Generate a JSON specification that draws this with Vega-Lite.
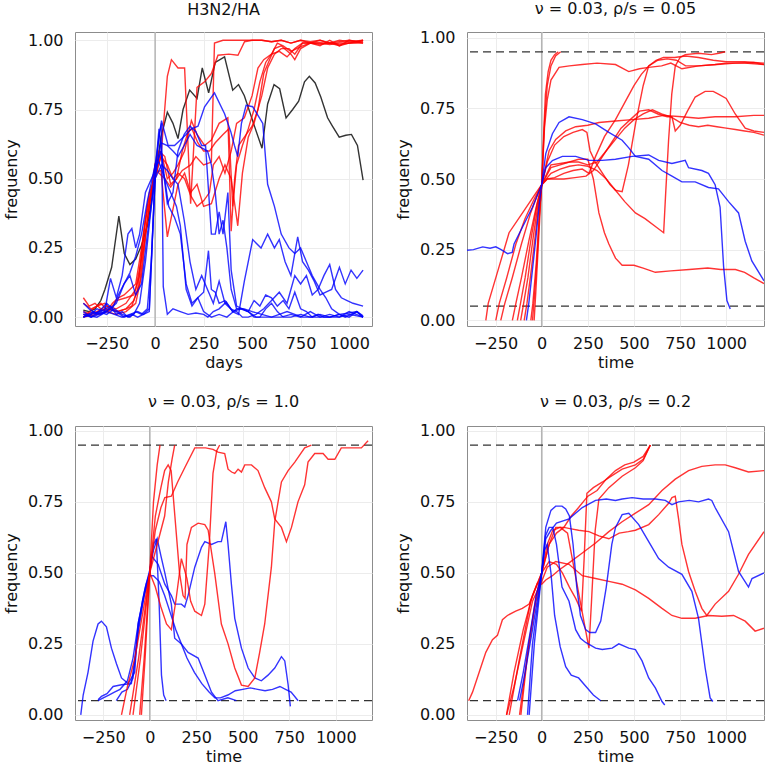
{
"$schema": "https://vega.github.io/schema/vega-lite/v6.json",
"padding": {"left": 2, "top": 0, "right": 0, "bottom": 0},
"columns": 2,
"spacing": {"column": 20, "row": 22},
"datasets": {
"p1": [
{"s":"K1","c":"k","x":-370,"y":0.025},{"s":"K1","c":"k","x":-340,"y":0.02},{"s":"K1","c":"k","x":-310,"y":0.03},{"s":"K1","c":"k","x":-280,"y":0.06},{"s":"K1","c":"k","x":-259,"y":0.10},{"s":"K1","c":"k","x":-224,"y":0.18},{"s":"K1","c":"k","x":-187,"y":0.365},{"s":"K1","c":"k","x":-159,"y":0.23},{"s":"K1","c":"k","x":-130,"y":0.19},{"s":"K1","c":"k","x":-100,"y":0.21},{"s":"K1","c":"k","x":-70,"y":0.26},{"s":"K1","c":"k","x":-40,"y":0.33},{"s":"K1","c":"k","x":0,"y":0.50},{"s":"K1","c":"k","x":30,"y":0.65},{"s":"K1","c":"k","x":63,"y":0.74},{"s":"K1","c":"k","x":92,"y":0.70},{"s":"K1","c":"k","x":118,"y":0.645},{"s":"K1","c":"k","x":144,"y":0.75},{"s":"K1","c":"k","x":178,"y":0.82},{"s":"K1","c":"k","x":216,"y":0.79},{"s":"K1","c":"k","x":243,"y":0.90},{"s":"K1","c":"k","x":276,"y":0.81},{"s":"K1","c":"k","x":310,"y":0.92},{"s":"K1","c":"k","x":358,"y":0.94},{"s":"K1","c":"k","x":400,"y":0.82},{"s":"K1","c":"k","x":430,"y":0.84},{"s":"K1","c":"k","x":460,"y":0.80},{"s":"K1","c":"k","x":512,"y":0.69},{"s":"K1","c":"k","x":551,"y":0.61},{"s":"K1","c":"k","x":580,"y":0.77},{"s":"K1","c":"k","x":613,"y":0.84},{"s":"K1","c":"k","x":642,"y":0.825},{"s":"K1","c":"k","x":675,"y":0.72},{"s":"K1","c":"k","x":709,"y":0.75},{"s":"K1","c":"k","x":740,"y":0.78},{"s":"K1","c":"k","x":770,"y":0.85},{"s":"K1","c":"k","x":795,"y":0.87},{"s":"K1","c":"k","x":825,"y":0.846},{"s":"K1","c":"k","x":854,"y":0.795},{"s":"K1","c":"k","x":889,"y":0.72},{"s":"K1","c":"k","x":914,"y":0.69},{"s":"K1","c":"k","x":949,"y":0.65},{"s":"K1","c":"k","x":983,"y":0.657},{"s":"K1","c":"k","x":1012,"y":0.66},{"s":"K1","c":"k","x":1043,"y":0.62},{"s":"K1","c":"k","x":1072,"y":0.495},
{"s":"R1","c":"r","x":-370,"y":0.07},{"s":"R1","c":"r","x":-340,"y":0.04},{"s":"R1","c":"r","x":-310,"y":0.05},{"s":"R1","c":"r","x":-280,"y":0.03},{"s":"R1","c":"r","x":-250,"y":0.02},{"s":"R1","c":"r","x":-220,"y":0.05},{"s":"R1","c":"r","x":-190,"y":0.07},{"s":"R1","c":"r","x":-160,"y":0.08},{"s":"R1","c":"r","x":-130,"y":0.1},{"s":"R1","c":"r","x":-100,"y":0.12},{"s":"R1","c":"r","x":-70,"y":0.25},{"s":"R1","c":"r","x":-40,"y":0.4},{"s":"R1","c":"r","x":0,"y":0.52},{"s":"R1","c":"r","x":30,"y":0.58},{"s":"R1","c":"r","x":63,"y":0.87},{"s":"R1","c":"r","x":84,"y":0.93},{"s":"R1","c":"r","x":118,"y":0.9},{"s":"R1","c":"r","x":152,"y":0.9},{"s":"R1","c":"r","x":183,"y":0.41},{"s":"R1","c":"r","x":216,"y":0.83},{"s":"R1","c":"r","x":255,"y":0.85},{"s":"R1","c":"r","x":290,"y":0.88},{"s":"R1","c":"r","x":324,"y":0.946},{"s":"R1","c":"r","x":380,"y":0.95},{"s":"R1","c":"r","x":427,"y":0.946},{"s":"R1","c":"r","x":461,"y":0.995},{"s":"R1","c":"r","x":500,"y":1},{"s":"R1","c":"r","x":550,"y":1},{"s":"R1","c":"r","x":600,"y":0.995},{"s":"R1","c":"r","x":650,"y":1},{"s":"R1","c":"r","x":700,"y":0.99},{"s":"R1","c":"r","x":750,"y":1},{"s":"R1","c":"r","x":800,"y":0.995},{"s":"R1","c":"r","x":850,"y":1},{"s":"R1","c":"r","x":900,"y":0.99},{"s":"R1","c":"r","x":950,"y":0.995},{"s":"R1","c":"r","x":1000,"y":1},{"s":"R1","c":"r","x":1050,"y":0.995},{"s":"R1","c":"r","x":1072,"y":1},
{"s":"R3","c":"r","x":-370,"y":0.01},{"s":"R3","c":"r","x":-300,"y":0.02},{"s":"R3","c":"r","x":-250,"y":0.04},{"s":"R3","c":"r","x":-200,"y":0.03},{"s":"R3","c":"r","x":-150,"y":0.05},{"s":"R3","c":"r","x":-100,"y":0.1},{"s":"R3","c":"r","x":-60,"y":0.25},{"s":"R3","c":"r","x":-30,"y":0.4},{"s":"R3","c":"r","x":0,"y":0.52},{"s":"R3","c":"r","x":30,"y":0.6},{"s":"R3","c":"r","x":63,"y":0.5},{"s":"R3","c":"r","x":92,"y":0.52},{"s":"R3","c":"r","x":118,"y":0.55},{"s":"R3","c":"r","x":152,"y":0.6},{"s":"R3","c":"r","x":187,"y":0.71},{"s":"R3","c":"r","x":216,"y":0.66},{"s":"R3","c":"r","x":255,"y":0.62},{"s":"R3","c":"r","x":290,"y":0.64},{"s":"R3","c":"r","x":330,"y":0.7},{"s":"R3","c":"r","x":375,"y":0.72},{"s":"R3","c":"r","x":392,"y":0.31},{"s":"R3","c":"r","x":410,"y":0.5},{"s":"R3","c":"r","x":430,"y":0.62},{"s":"R3","c":"r","x":460,"y":0.65},{"s":"R3","c":"r","x":500,"y":0.69},{"s":"R3","c":"r","x":530,"y":0.75},{"s":"R3","c":"r","x":560,"y":0.88},{"s":"R3","c":"r","x":590,"y":0.93},{"s":"R3","c":"r","x":615,"y":0.97},{"s":"R3","c":"r","x":650,"y":0.98},{"s":"R3","c":"r","x":700,"y":0.95},{"s":"R3","c":"r","x":720,"y":0.93},{"s":"R3","c":"r","x":750,"y":0.97},{"s":"R3","c":"r","x":800,"y":0.99},{"s":"R3","c":"r","x":850,"y":0.99},{"s":"R3","c":"r","x":900,"y":0.99},{"s":"R3","c":"r","x":950,"y":0.985},{"s":"R3","c":"r","x":1000,"y":0.99},{"s":"R3","c":"r","x":1072,"y":0.99},
{"s":"R4","c":"r","x":-370,"y":0},{"s":"R4","c":"r","x":-320,"y":0.03},{"s":"R4","c":"r","x":-280,"y":0.05},{"s":"R4","c":"r","x":-240,"y":0.02},{"s":"R4","c":"r","x":-200,"y":0.06},{"s":"R4","c":"r","x":-150,"y":0.07},{"s":"R4","c":"r","x":-110,"y":0.08},{"s":"R4","c":"r","x":-80,"y":0.15},{"s":"R4","c":"r","x":-50,"y":0.35},{"s":"R4","c":"r","x":-20,"y":0.45},{"s":"R4","c":"r","x":0,"y":0.52},{"s":"R4","c":"r","x":30,"y":0.53},{"s":"R4","c":"r","x":63,"y":0.29},{"s":"R4","c":"r","x":92,"y":0.39},{"s":"R4","c":"r","x":118,"y":0.48},{"s":"R4","c":"r","x":152,"y":0.52},{"s":"R4","c":"r","x":183,"y":0.45},{"s":"R4","c":"r","x":216,"y":0.48},{"s":"R4","c":"r","x":250,"y":0.4},{"s":"R4","c":"r","x":290,"y":0.41},{"s":"R4","c":"r","x":330,"y":0.5},{"s":"R4","c":"r","x":360,"y":0.55},{"s":"R4","c":"r","x":392,"y":0.5},{"s":"R4","c":"r","x":426,"y":0.33},{"s":"R4","c":"r","x":450,"y":0.52},{"s":"R4","c":"r","x":480,"y":0.65},{"s":"R4","c":"r","x":510,"y":0.7},{"s":"R4","c":"r","x":550,"y":0.8},{"s":"R4","c":"r","x":580,"y":0.9},{"s":"R4","c":"r","x":615,"y":0.95},{"s":"R4","c":"r","x":650,"y":0.97},{"s":"R4","c":"r","x":690,"y":0.97},{"s":"R4","c":"r","x":720,"y":0.95},{"s":"R4","c":"r","x":760,"y":0.99},{"s":"R4","c":"r","x":800,"y":0.99},{"s":"R4","c":"r","x":850,"y":0.985},{"s":"R4","c":"r","x":900,"y":0.99},{"s":"R4","c":"r","x":950,"y":0.98},{"s":"R4","c":"r","x":1000,"y":0.99},{"s":"R4","c":"r","x":1072,"y":1},
{"s":"R5","c":"r","x":-370,"y":0.02},{"s":"R5","c":"r","x":-330,"y":0.01},{"s":"R5","c":"r","x":-290,"y":0.02},{"s":"R5","c":"r","x":-250,"y":0.03},{"s":"R5","c":"r","x":-200,"y":0.02},{"s":"R5","c":"r","x":-150,"y":0.03},{"s":"R5","c":"r","x":-120,"y":0.04},{"s":"R5","c":"r","x":-90,"y":0.1},{"s":"R5","c":"r","x":-60,"y":0.3},{"s":"R5","c":"r","x":-30,"y":0.45},{"s":"R5","c":"r","x":0,"y":0.5},{"s":"R5","c":"r","x":30,"y":0.58},{"s":"R5","c":"r","x":63,"y":0.55},{"s":"R5","c":"r","x":92,"y":0.5},{"s":"R5","c":"r","x":118,"y":0.52},{"s":"R5","c":"r","x":152,"y":0.5},{"s":"R5","c":"r","x":183,"y":0.44},{"s":"R5","c":"r","x":216,"y":0.4},{"s":"R5","c":"r","x":250,"y":0.42},{"s":"R5","c":"r","x":280,"y":0.45},{"s":"R5","c":"r","x":300,"y":0.55},{"s":"R5","c":"r","x":330,"y":0.58},{"s":"R5","c":"r","x":360,"y":0.52},{"s":"R5","c":"r","x":392,"y":0.6},{"s":"R5","c":"r","x":420,"y":0.7},{"s":"R5","c":"r","x":460,"y":0.72},{"s":"R5","c":"r","x":500,"y":0.8},{"s":"R5","c":"r","x":530,"y":0.9},{"s":"R5","c":"r","x":560,"y":0.93},{"s":"R5","c":"r","x":600,"y":0.95},{"s":"R5","c":"r","x":630,"y":0.99},{"s":"R5","c":"r","x":660,"y":0.98},{"s":"R5","c":"r","x":700,"y":0.96},{"s":"R5","c":"r","x":730,"y":0.97},{"s":"R5","c":"r","x":760,"y":0.98},{"s":"R5","c":"r","x":800,"y":0.99},{"s":"R5","c":"r","x":850,"y":0.99},{"s":"R5","c":"r","x":900,"y":0.985},{"s":"R5","c":"r","x":950,"y":0.99},{"s":"R5","c":"r","x":1000,"y":0.99},{"s":"R5","c":"r","x":1072,"y":0.995},
{"s":"R6","c":"r","x":-370,"y":0},{"s":"R6","c":"r","x":-300,"y":0.01},{"s":"R6","c":"r","x":-250,"y":0.02},{"s":"R6","c":"r","x":-200,"y":0.01},{"s":"R6","c":"r","x":-150,"y":0.02},{"s":"R6","c":"r","x":-100,"y":0.05},{"s":"R6","c":"r","x":-70,"y":0.15},{"s":"R6","c":"r","x":-40,"y":0.35},{"s":"R6","c":"r","x":0,"y":0.55},{"s":"R6","c":"r","x":20,"y":0.6},{"s":"R6","c":"r","x":50,"y":0.58},{"s":"R6","c":"r","x":80,"y":0.48},{"s":"R6","c":"r","x":110,"y":0.5},{"s":"R6","c":"r","x":140,"y":0.53},{"s":"R6","c":"r","x":183,"y":0.55},{"s":"R6","c":"r","x":210,"y":0.58},{"s":"R6","c":"r","x":250,"y":0.55},{"s":"R6","c":"r","x":290,"y":0.56},{"s":"R6","c":"r","x":306,"y":0.99},{"s":"R6","c":"r","x":350,"y":1},{"s":"R6","c":"r","x":400,"y":1},{"s":"R6","c":"r","x":450,"y":1},{"s":"R6","c":"r","x":500,"y":1},{"s":"R6","c":"r","x":550,"y":1},{"s":"R6","c":"r","x":600,"y":0.995},{"s":"R6","c":"r","x":650,"y":1},{"s":"R6","c":"r","x":700,"y":0.99},{"s":"R6","c":"r","x":750,"y":1},{"s":"R6","c":"r","x":800,"y":0.99},{"s":"R6","c":"r","x":850,"y":1},{"s":"R6","c":"r","x":900,"y":0.99},{"s":"R6","c":"r","x":950,"y":1},{"s":"R6","c":"r","x":1000,"y":0.995},{"s":"R6","c":"r","x":1072,"y":1},
{"s":"R7","c":"r","x":-370,"y":0.05},{"s":"R7","c":"r","x":-330,"y":0.03},{"s":"R7","c":"r","x":-300,"y":0.04},{"s":"R7","c":"r","x":-260,"y":0.05},{"s":"R7","c":"r","x":-230,"y":0.03},{"s":"R7","c":"r","x":-190,"y":0.02},{"s":"R7","c":"r","x":-150,"y":0.03},{"s":"R7","c":"r","x":-110,"y":0.06},{"s":"R7","c":"r","x":-80,"y":0.12},{"s":"R7","c":"r","x":-50,"y":0.3},{"s":"R7","c":"r","x":-20,"y":0.45},{"s":"R7","c":"r","x":0,"y":0.55},{"s":"R7","c":"r","x":20,"y":0.52},{"s":"R7","c":"r","x":50,"y":0.5},{"s":"R7","c":"r","x":80,"y":0.47},{"s":"R7","c":"r","x":110,"y":0.5},{"s":"R7","c":"r","x":140,"y":0.6},{"s":"R7","c":"r","x":170,"y":0.67},{"s":"R7","c":"r","x":190,"y":0.68},{"s":"R7","c":"r","x":220,"y":0.63},{"s":"R7","c":"r","x":250,"y":0.6},{"s":"R7","c":"r","x":280,"y":0.6},{"s":"R7","c":"r","x":310,"y":0.63},{"s":"R7","c":"r","x":350,"y":0.66},{"s":"R7","c":"r","x":380,"y":0.68},{"s":"R7","c":"r","x":400,"y":0.4},{"s":"R7","c":"r","x":420,"y":0.55},{"s":"R7","c":"r","x":450,"y":0.62},{"s":"R7","c":"r","x":480,"y":0.68},{"s":"R7","c":"r","x":510,"y":0.75},{"s":"R7","c":"r","x":540,"y":0.85},{"s":"R7","c":"r","x":570,"y":0.92},{"s":"R7","c":"r","x":600,"y":0.95},{"s":"R7","c":"r","x":640,"y":0.96},{"s":"R7","c":"r","x":680,"y":0.94},{"s":"R7","c":"r","x":720,"y":0.97},{"s":"R7","c":"r","x":760,"y":0.99},{"s":"R7","c":"r","x":800,"y":0.99},{"s":"R7","c":"r","x":850,"y":0.98},{"s":"R7","c":"r","x":900,"y":1},{"s":"R7","c":"r","x":950,"y":0.98},{"s":"R7","c":"r","x":1000,"y":1},{"s":"R7","c":"r","x":1072,"y":0.99},
{"s":"B1","c":"b","x":-370,"y":0},{"s":"B1","c":"b","x":-330,"y":0.01},{"s":"B1","c":"b","x":-290,"y":0.02},{"s":"B1","c":"b","x":-250,"y":0.05},{"s":"B1","c":"b","x":-220,"y":0.03},{"s":"B1","c":"b","x":-190,"y":0.08},{"s":"B1","c":"b","x":-160,"y":0.12},{"s":"B1","c":"b","x":-130,"y":0.16},{"s":"B1","c":"b","x":-100,"y":0.22},{"s":"B1","c":"b","x":-70,"y":0.3},{"s":"B1","c":"b","x":-40,"y":0.42},{"s":"B1","c":"b","x":0,"y":0.55},{"s":"B1","c":"b","x":33,"y":0.71},{"s":"B1","c":"b","x":67,"y":0.62},{"s":"B1","c":"b","x":100,"y":0.62},{"s":"B1","c":"b","x":130,"y":0.64},{"s":"B1","c":"b","x":160,"y":0.66},{"s":"B1","c":"b","x":187,"y":0.68},{"s":"B1","c":"b","x":221,"y":0.69},{"s":"B1","c":"b","x":255,"y":0.76},{"s":"B1","c":"b","x":306,"y":0.81},{"s":"B1","c":"b","x":358,"y":0.735},{"s":"B1","c":"b","x":390,"y":0.67},{"s":"B1","c":"b","x":409,"y":0.62},{"s":"B1","c":"b","x":426,"y":0.58},{"s":"B1","c":"b","x":445,"y":0.7},{"s":"B1","c":"b","x":469,"y":0.765},{"s":"B1","c":"b","x":503,"y":0.76},{"s":"B1","c":"b","x":538,"y":0.72},{"s":"B1","c":"b","x":555,"y":0.7},{"s":"B1","c":"b","x":580,"y":0.48},{"s":"B1","c":"b","x":615,"y":0.4},{"s":"B1","c":"b","x":650,"y":0.3},{"s":"B1","c":"b","x":690,"y":0.25},{"s":"B1","c":"b","x":720,"y":0.23},{"s":"B1","c":"b","x":750,"y":0.25},{"s":"B1","c":"b","x":780,"y":0.2},{"s":"B1","c":"b","x":810,"y":0.15},{"s":"B1","c":"b","x":850,"y":0.1},{"s":"B1","c":"b","x":880,"y":0.07},{"s":"B1","c":"b","x":910,"y":0.03},{"s":"B1","c":"b","x":950,"y":0.01},{"s":"B1","c":"b","x":980,"y":0},{"s":"B1","c":"b","x":1010,"y":0.01},{"s":"B1","c":"b","x":1040,"y":0.02},{"s":"B1","c":"b","x":1072,"y":0},
{"s":"B2","c":"b","x":-370,"y":0},{"s":"B2","c":"b","x":-330,"y":0.01},{"s":"B2","c":"b","x":-300,"y":0.03},{"s":"B2","c":"b","x":-260,"y":0.02},{"s":"B2","c":"b","x":-230,"y":0.14},{"s":"B2","c":"b","x":-200,"y":0.07},{"s":"B2","c":"b","x":-170,"y":0.15},{"s":"B2","c":"b","x":-140,"y":0.3},{"s":"B2","c":"b","x":-120,"y":0.32},{"s":"B2","c":"b","x":-100,"y":0.25},{"s":"B2","c":"b","x":-80,"y":0.3},{"s":"B2","c":"b","x":-50,"y":0.45},{"s":"B2","c":"b","x":0,"y":0.53},{"s":"B2","c":"b","x":30,"y":0.6},{"s":"B2","c":"b","x":63,"y":0.41},{"s":"B2","c":"b","x":92,"y":0.45},{"s":"B2","c":"b","x":118,"y":0.6},{"s":"B2","c":"b","x":150,"y":0.66},{"s":"B2","c":"b","x":180,"y":0.69},{"s":"B2","c":"b","x":210,"y":0.67},{"s":"B2","c":"b","x":240,"y":0.62},{"s":"B2","c":"b","x":260,"y":0.62},{"s":"B2","c":"b","x":290,"y":0.3},{"s":"B2","c":"b","x":310,"y":0.3},{"s":"B2","c":"b","x":330,"y":0.38},{"s":"B2","c":"b","x":350,"y":0.3},{"s":"B2","c":"b","x":375,"y":0.45},{"s":"B2","c":"b","x":392,"y":0.17},{"s":"B2","c":"b","x":420,"y":0.04},{"s":"B2","c":"b","x":450,"y":0.03},{"s":"B2","c":"b","x":480,"y":0.02},{"s":"B2","c":"b","x":510,"y":0},{"s":"B2","c":"b","x":540,"y":0},{"s":"B2","c":"b","x":570,"y":0.03},{"s":"B2","c":"b","x":600,"y":0.05},{"s":"B2","c":"b","x":630,"y":0.02},{"s":"B2","c":"b","x":660,"y":0},{"s":"B2","c":"b","x":700,"y":0},{"s":"B2","c":"b","x":750,"y":0.01},{"s":"B2","c":"b","x":800,"y":0},{"s":"B2","c":"b","x":850,"y":0},{"s":"B2","c":"b","x":900,"y":0.01},{"s":"B2","c":"b","x":950,"y":0},{"s":"B2","c":"b","x":1000,"y":0.01},{"s":"B2","c":"b","x":1072,"y":0},
{"s":"B3","c":"b","x":-370,"y":0.01},{"s":"B3","c":"b","x":-330,"y":0},{"s":"B3","c":"b","x":-290,"y":0.02},{"s":"B3","c":"b","x":-250,"y":0.01},{"s":"B3","c":"b","x":-210,"y":0.03},{"s":"B3","c":"b","x":-170,"y":0.01},{"s":"B3","c":"b","x":-130,"y":0},{"s":"B3","c":"b","x":-100,"y":0.02},{"s":"B3","c":"b","x":-70,"y":0.01},{"s":"B3","c":"b","x":-40,"y":0.03},{"s":"B3","c":"b","x":-20,"y":0.2},{"s":"B3","c":"b","x":0,"y":0.5},{"s":"B3","c":"b","x":20,"y":0.66},{"s":"B3","c":"b","x":33,"y":0.7},{"s":"B3","c":"b","x":42,"y":0.11},{"s":"B3","c":"b","x":63,"y":0.01},{"s":"B3","c":"b","x":92,"y":0.03},{"s":"B3","c":"b","x":130,"y":0.02},{"s":"B3","c":"b","x":170,"y":0.01},{"s":"B3","c":"b","x":210,"y":0.015},{"s":"B3","c":"b","x":250,"y":0.01},{"s":"B3","c":"b","x":272,"y":0},{"s":"B3","c":"b","x":300,"y":0.02},{"s":"B3","c":"b","x":330,"y":0.03},{"s":"B3","c":"b","x":367,"y":0.055},{"s":"B3","c":"b","x":400,"y":0.02},{"s":"B3","c":"b","x":440,"y":0.03},{"s":"B3","c":"b","x":480,"y":0.02},{"s":"B3","c":"b","x":520,"y":0},{"s":"B3","c":"b","x":560,"y":0},{"s":"B3","c":"b","x":600,"y":0},{"s":"B3","c":"b","x":640,"y":0.01},{"s":"B3","c":"b","x":680,"y":0.02},{"s":"B3","c":"b","x":720,"y":0.01},{"s":"B3","c":"b","x":760,"y":0},{"s":"B3","c":"b","x":800,"y":0},{"s":"B3","c":"b","x":850,"y":0.01},{"s":"B3","c":"b","x":900,"y":0},{"s":"B3","c":"b","x":950,"y":0.01},{"s":"B3","c":"b","x":1000,"y":0.015},{"s":"B3","c":"b","x":1040,"y":0.02},{"s":"B3","c":"b","x":1072,"y":0.005},
{"s":"B4","c":"b","x":-370,"y":0.05},{"s":"B4","c":"b","x":-340,"y":0.03},{"s":"B4","c":"b","x":-300,"y":0.01},{"s":"B4","c":"b","x":-260,"y":0.03},{"s":"B4","c":"b","x":-230,"y":0.04},{"s":"B4","c":"b","x":-200,"y":0.01},{"s":"B4","c":"b","x":-170,"y":0.02},{"s":"B4","c":"b","x":-140,"y":0},{"s":"B4","c":"b","x":-110,"y":0.01},{"s":"B4","c":"b","x":-80,"y":0.05},{"s":"B4","c":"b","x":-50,"y":0.2},{"s":"B4","c":"b","x":-20,"y":0.4},{"s":"B4","c":"b","x":0,"y":0.55},{"s":"B4","c":"b","x":20,"y":0.56},{"s":"B4","c":"b","x":50,"y":0.5},{"s":"B4","c":"b","x":80,"y":0.45},{"s":"B4","c":"b","x":110,"y":0.4},{"s":"B4","c":"b","x":130,"y":0.33},{"s":"B4","c":"b","x":160,"y":0.1},{"s":"B4","c":"b","x":190,"y":0.04},{"s":"B4","c":"b","x":220,"y":0.07},{"s":"B4","c":"b","x":250,"y":0.09},{"s":"B4","c":"b","x":275,"y":0.24},{"s":"B4","c":"b","x":290,"y":0.1},{"s":"B4","c":"b","x":310,"y":0.09},{"s":"B4","c":"b","x":330,"y":0.05},{"s":"B4","c":"b","x":360,"y":0.06},{"s":"B4","c":"b","x":400,"y":0.02},{"s":"B4","c":"b","x":430,"y":0.01},{"s":"B4","c":"b","x":460,"y":0.13},{"s":"B4","c":"b","x":503,"y":0.28},{"s":"B4","c":"b","x":546,"y":0.25},{"s":"B4","c":"b","x":580,"y":0.3},{"s":"B4","c":"b","x":615,"y":0.25},{"s":"B4","c":"b","x":640,"y":0.28},{"s":"B4","c":"b","x":670,"y":0.2},{"s":"B4","c":"b","x":700,"y":0.15},{"s":"B4","c":"b","x":735,"y":0.29},{"s":"B4","c":"b","x":760,"y":0.2},{"s":"B4","c":"b","x":790,"y":0.17},{"s":"B4","c":"b","x":820,"y":0.13},{"s":"B4","c":"b","x":850,"y":0.08},{"s":"B4","c":"b","x":880,"y":0.09},{"s":"B4","c":"b","x":910,"y":0.1},{"s":"B4","c":"b","x":950,"y":0.18},{"s":"B4","c":"b","x":980,"y":0.12},{"s":"B4","c":"b","x":1010,"y":0.17},{"s":"B4","c":"b","x":1040,"y":0.14},{"s":"B4","c":"b","x":1072,"y":0.17},
{"s":"B5","c":"b","x":-370,"y":0.01},{"s":"B5","c":"b","x":-300,"y":0},{"s":"B5","c":"b","x":-250,"y":0.02},{"s":"B5","c":"b","x":-200,"y":0.05},{"s":"B5","c":"b","x":-160,"y":0.12},{"s":"B5","c":"b","x":-130,"y":0.15},{"s":"B5","c":"b","x":-100,"y":0.08},{"s":"B5","c":"b","x":-70,"y":0.12},{"s":"B5","c":"b","x":-40,"y":0.3},{"s":"B5","c":"b","x":0,"y":0.5},{"s":"B5","c":"b","x":30,"y":0.63},{"s":"B5","c":"b","x":63,"y":0.62},{"s":"B5","c":"b","x":92,"y":0.6},{"s":"B5","c":"b","x":118,"y":0.58},{"s":"B5","c":"b","x":150,"y":0.62},{"s":"B5","c":"b","x":180,"y":0.66},{"s":"B5","c":"b","x":216,"y":0.62},{"s":"B5","c":"b","x":245,"y":0.61},{"s":"B5","c":"b","x":270,"y":0.6},{"s":"B5","c":"b","x":290,"y":0.55},{"s":"B5","c":"b","x":310,"y":0.45},{"s":"B5","c":"b","x":330,"y":0.3},{"s":"B5","c":"b","x":350,"y":0.35},{"s":"B5","c":"b","x":370,"y":0.25},{"s":"B5","c":"b","x":392,"y":0.1},{"s":"B5","c":"b","x":420,"y":0.03},{"s":"B5","c":"b","x":450,"y":0.03},{"s":"B5","c":"b","x":480,"y":0.02},{"s":"B5","c":"b","x":510,"y":0.06},{"s":"B5","c":"b","x":540,"y":0.04},{"s":"B5","c":"b","x":570,"y":0.08},{"s":"B5","c":"b","x":600,"y":0.07},{"s":"B5","c":"b","x":630,"y":0.04},{"s":"B5","c":"b","x":660,"y":0.06},{"s":"B5","c":"b","x":690,"y":0.03},{"s":"B5","c":"b","x":720,"y":0.09},{"s":"B5","c":"b","x":750,"y":0.03},{"s":"B5","c":"b","x":780,"y":0.02},{"s":"B5","c":"b","x":810,"y":0},{"s":"B5","c":"b","x":840,"y":0.01},{"s":"B5","c":"b","x":870,"y":0},{"s":"B5","c":"b","x":900,"y":0},{"s":"B5","c":"b","x":950,"y":0},{"s":"B5","c":"b","x":1000,"y":0.02},{"s":"B5","c":"b","x":1072,"y":0},
{"s":"B6","c":"b","x":-370,"y":0.02},{"s":"B6","c":"b","x":-330,"y":0},{"s":"B6","c":"b","x":-290,"y":0.01},{"s":"B6","c":"b","x":-250,"y":0.02},{"s":"B6","c":"b","x":-210,"y":0.01},{"s":"B6","c":"b","x":-170,"y":0},{"s":"B6","c":"b","x":-130,"y":0.01},{"s":"B6","c":"b","x":-90,"y":0.02},{"s":"B6","c":"b","x":-60,"y":0.01},{"s":"B6","c":"b","x":-30,"y":0.03},{"s":"B6","c":"b","x":0,"y":0.5},{"s":"B6","c":"b","x":33,"y":0.55},{"s":"B6","c":"b","x":63,"y":0.53},{"s":"B6","c":"b","x":92,"y":0.5},{"s":"B6","c":"b","x":118,"y":0.48},{"s":"B6","c":"b","x":150,"y":0.35},{"s":"B6","c":"b","x":180,"y":0.2},{"s":"B6","c":"b","x":210,"y":0.1},{"s":"B6","c":"b","x":240,"y":0.15},{"s":"B6","c":"b","x":270,"y":0.1},{"s":"B6","c":"b","x":300,"y":0.05},{"s":"B6","c":"b","x":330,"y":0.13},{"s":"B6","c":"b","x":360,"y":0.05},{"s":"B6","c":"b","x":390,"y":0.03},{"s":"B6","c":"b","x":420,"y":0.02},{"s":"B6","c":"b","x":450,"y":0},{"s":"B6","c":"b","x":480,"y":0},{"s":"B6","c":"b","x":520,"y":0.01},{"s":"B6","c":"b","x":560,"y":0.03},{"s":"B6","c":"b","x":600,"y":0.06},{"s":"B6","c":"b","x":640,"y":0.09},{"s":"B6","c":"b","x":680,"y":0.05},{"s":"B6","c":"b","x":720,"y":0.15},{"s":"B6","c":"b","x":750,"y":0.12},{"s":"B6","c":"b","x":780,"y":0.15},{"s":"B6","c":"b","x":810,"y":0.08},{"s":"B6","c":"b","x":840,"y":0.1},{"s":"B6","c":"b","x":870,"y":0.15},{"s":"B6","c":"b","x":900,"y":0.19},{"s":"B6","c":"b","x":930,"y":0.1},{"s":"B6","c":"b","x":960,"y":0.07},{"s":"B6","c":"b","x":990,"y":0.06},{"s":"B6","c":"b","x":1020,"y":0.05},{"s":"B6","c":"b","x":1072,"y":0.04},
{"s":"B7","c":"b","x":-370,"y":0},{"s":"B7","c":"b","x":-320,"y":0.02},{"s":"B7","c":"b","x":-280,"y":0.01},{"s":"B7","c":"b","x":-240,"y":0.03},{"s":"B7","c":"b","x":-200,"y":0.02},{"s":"B7","c":"b","x":-160,"y":0},{"s":"B7","c":"b","x":-120,"y":0.01},{"s":"B7","c":"b","x":-90,"y":0},{"s":"B7","c":"b","x":-60,"y":0.01},{"s":"B7","c":"b","x":-30,"y":0.02},{"s":"B7","c":"b","x":0,"y":0.52},{"s":"B7","c":"b","x":20,"y":0.68},{"s":"B7","c":"b","x":45,"y":0.52},{"s":"B7","c":"b","x":70,"y":0.4},{"s":"B7","c":"b","x":100,"y":0.36},{"s":"B7","c":"b","x":130,"y":0.3},{"s":"B7","c":"b","x":160,"y":0.12},{"s":"B7","c":"b","x":190,"y":0.05},{"s":"B7","c":"b","x":220,"y":0.07},{"s":"B7","c":"b","x":250,"y":0.02},{"s":"B7","c":"b","x":290,"y":0},{"s":"B7","c":"b","x":330,"y":0.01},{"s":"B7","c":"b","x":370,"y":0},{"s":"B7","c":"b","x":420,"y":0.03},{"s":"B7","c":"b","x":460,"y":0.03},{"s":"B7","c":"b","x":500,"y":0.02},{"s":"B7","c":"b","x":550,"y":0.01},{"s":"B7","c":"b","x":600,"y":0},{"s":"B7","c":"b","x":650,"y":0},{"s":"B7","c":"b","x":700,"y":0.01},{"s":"B7","c":"b","x":750,"y":0},{"s":"B7","c":"b","x":800,"y":0.02},{"s":"B7","c":"b","x":850,"y":0},{"s":"B7","c":"b","x":900,"y":0},{"s":"B7","c":"b","x":950,"y":0.01},{"s":"B7","c":"b","x":1000,"y":0},{"s":"B7","c":"b","x":1040,"y":0.02},{"s":"B7","c":"b","x":1072,"y":0}
],
"p2": [
{"s":"RL1","c":"r","x":-41,"y":0},{"s":"RL1","c":"r","x":-32,"y":0.1},{"s":"RL1","c":"r","x":-18,"y":0.27},{"s":"RL1","c":"r","x":-6,"y":0.42},{"s":"RL1","c":"r","x":0,"y":0.48},{"s":"RL1","c":"r","x":10,"y":0.65},{"s":"RL1","c":"r","x":20,"y":0.8},{"s":"RL1","c":"r","x":35,"y":0.88},{"s":"RL1","c":"r","x":50,"y":0.92},{"s":"RL1","c":"r","x":70,"y":0.94},{"s":"RL1","c":"r","x":90,"y":0.95},
{"s":"RL11","c":"r","x":-50,"y":0},{"s":"RL11","c":"r","x":-40,"y":0.08},{"s":"RL11","c":"r","x":-25,"y":0.22},{"s":"RL11","c":"r","x":-10,"y":0.4},{"s":"RL11","c":"r","x":0,"y":0.48},{"s":"RL11","c":"r","x":15,"y":0.7},{"s":"RL11","c":"r","x":30,"y":0.83},{"s":"RL11","c":"r","x":50,"y":0.9},{"s":"RL11","c":"r","x":75,"y":0.935},{"s":"RL11","c":"r","x":103,"y":0.95},
{"s":"RL2","c":"r","x":-59,"y":0},{"s":"RL2","c":"r","x":-48,"y":0.06},{"s":"RL2","c":"r","x":-30,"y":0.2},{"s":"RL2","c":"r","x":-12,"y":0.38},{"s":"RL2","c":"r","x":0,"y":0.48},{"s":"RL2","c":"r","x":15,"y":0.68},{"s":"RL2","c":"r","x":30,"y":0.78},{"s":"RL2","c":"r","x":50,"y":0.85},{"s":"RL2","c":"r","x":94,"y":0.895},{"s":"RL2","c":"r","x":150,"y":0.9},{"s":"RL2","c":"r","x":220,"y":0.905},{"s":"RL2","c":"r","x":300,"y":0.91},{"s":"RL2","c":"r","x":400,"y":0.905},{"s":"RL2","c":"r","x":472,"y":0.88},{"s":"RL2","c":"r","x":530,"y":0.89},{"s":"RL2","c":"r","x":580,"y":0.895},{"s":"RL2","c":"r","x":650,"y":0.9},{"s":"RL2","c":"r","x":700,"y":0.91},{"s":"RL2","c":"r","x":760,"y":0.89},{"s":"RL2","c":"r","x":850,"y":0.9},{"s":"RL2","c":"r","x":940,"y":0.905},{"s":"RL2","c":"r","x":1000,"y":0.91},{"s":"RL2","c":"r","x":1100,"y":0.91},{"s":"RL2","c":"r","x":1205,"y":0.905},
{"s":"RL3","c":"r","x":-95,"y":0},{"s":"RL3","c":"r","x":-80,"y":0.06},{"s":"RL3","c":"r","x":-60,"y":0.16},{"s":"RL3","c":"r","x":-35,"y":0.3},{"s":"RL3","c":"r","x":-15,"y":0.42},{"s":"RL3","c":"r","x":0,"y":0.48},{"s":"RL3","c":"r","x":50,"y":0.52},{"s":"RL3","c":"r","x":100,"y":0.535},{"s":"RL3","c":"r","x":150,"y":0.545},{"s":"RL3","c":"r","x":200,"y":0.55},{"s":"RL3","c":"r","x":250,"y":0.545},{"s":"RL3","c":"r","x":300,"y":0.53},{"s":"RL3","c":"r","x":350,"y":0.5},{"s":"RL3","c":"r","x":400,"y":0.46},{"s":"RL3","c":"r","x":436,"y":0.455},{"s":"RL3","c":"r","x":470,"y":0.55},{"s":"RL3","c":"r","x":510,"y":0.7},{"s":"RL3","c":"r","x":550,"y":0.83},{"s":"RL3","c":"r","x":580,"y":0.9},{"s":"RL3","c":"r","x":620,"y":0.92},{"s":"RL3","c":"r","x":660,"y":0.93},{"s":"RL3","c":"r","x":720,"y":0.93},{"s":"RL3","c":"r","x":780,"y":0.935},{"s":"RL3","c":"r","x":850,"y":0.93},{"s":"RL3","c":"r","x":930,"y":0.92},{"s":"RL3","c":"r","x":1000,"y":0.915},{"s":"RL3","c":"r","x":1100,"y":0.915},{"s":"RL3","c":"r","x":1205,"y":0.91},
{"s":"RL4","c":"r","x":-132,"y":0},{"s":"RL4","c":"r","x":-115,"y":0.06},{"s":"RL4","c":"r","x":-90,"y":0.15},{"s":"RL4","c":"r","x":-55,"y":0.3},{"s":"RL4","c":"r","x":-25,"y":0.41},{"s":"RL4","c":"r","x":0,"y":0.48},{"s":"RL4","c":"r","x":30,"y":0.56},{"s":"RL4","c":"r","x":70,"y":0.62},{"s":"RL4","c":"r","x":120,"y":0.65},{"s":"RL4","c":"r","x":170,"y":0.665},{"s":"RL4","c":"r","x":220,"y":0.675},{"s":"RL4","c":"r","x":245,"y":0.665},{"s":"RL4","c":"r","x":262,"y":0.6},{"s":"RL4","c":"r","x":290,"y":0.56},{"s":"RL4","c":"r","x":330,"y":0.52},{"s":"RL4","c":"r","x":370,"y":0.48},{"s":"RL4","c":"r","x":400,"y":0.46},{"s":"RL4","c":"r","x":450,"y":0.42},{"s":"RL4","c":"r","x":508,"y":0.38},{"s":"RL4","c":"r","x":560,"y":0.36},{"s":"RL4","c":"r","x":620,"y":0.33},{"s":"RL4","c":"r","x":661,"y":0.31},{"s":"RL4","c":"r","x":672,"y":0.45},{"s":"RL4","c":"r","x":688,"y":0.64},{"s":"RL4","c":"r","x":705,"y":0.8},{"s":"RL4","c":"r","x":724,"y":0.9},{"s":"RL4","c":"r","x":750,"y":0.93},{"s":"RL4","c":"r","x":778,"y":0.94},{"s":"RL4","c":"r","x":850,"y":0.945},{"s":"RL4","c":"r","x":920,"y":0.94},{"s":"RL4","c":"r","x":960,"y":0.945},{"s":"RL4","c":"r","x":995,"y":0.95},
{"s":"RL5","c":"r","x":-159,"y":0},{"s":"RL5","c":"r","x":-140,"y":0.06},{"s":"RL5","c":"r","x":-110,"y":0.15},{"s":"RL5","c":"r","x":-70,"y":0.28},{"s":"RL5","c":"r","x":-30,"y":0.4},{"s":"RL5","c":"r","x":0,"y":0.48},{"s":"RL5","c":"r","x":50,"y":0.55},{"s":"RL5","c":"r","x":100,"y":0.555},{"s":"RL5","c":"r","x":150,"y":0.56},{"s":"RL5","c":"r","x":200,"y":0.57},{"s":"RL5","c":"r","x":250,"y":0.57},{"s":"RL5","c":"r","x":280,"y":0.5},{"s":"RL5","c":"r","x":310,"y":0.38},{"s":"RL5","c":"r","x":340,"y":0.31},{"s":"RL5","c":"r","x":364,"y":0.27},{"s":"RL5","c":"r","x":400,"y":0.22},{"s":"RL5","c":"r","x":436,"y":0.195},{"s":"RL5","c":"r","x":500,"y":0.195},{"s":"RL5","c":"r","x":550,"y":0.185},{"s":"RL5","c":"r","x":616,"y":0.17},{"s":"RL5","c":"r","x":700,"y":0.175},{"s":"RL5","c":"r","x":800,"y":0.18},{"s":"RL5","c":"r","x":900,"y":0.185},{"s":"RL5","c":"r","x":970,"y":0.18},{"s":"RL5","c":"r","x":1050,"y":0.18},{"s":"RL5","c":"r","x":1100,"y":0.17},{"s":"RL5","c":"r","x":1150,"y":0.15},{"s":"RL5","c":"r","x":1205,"y":0.13},
{"s":"RL7","c":"r","x":-222,"y":0},{"s":"RL7","c":"r","x":-200,"y":0.06},{"s":"RL7","c":"r","x":-160,"y":0.15},{"s":"RL7","c":"r","x":-110,"y":0.27},{"s":"RL7","c":"r","x":-60,"y":0.38},{"s":"RL7","c":"r","x":-20,"y":0.45},{"s":"RL7","c":"r","x":0,"y":0.48},{"s":"RL7","c":"r","x":30,"y":0.5},{"s":"RL7","c":"r","x":70,"y":0.505},{"s":"RL7","c":"r","x":120,"y":0.52},{"s":"RL7","c":"r","x":170,"y":0.53},{"s":"RL7","c":"r","x":220,"y":0.535},{"s":"RL7","c":"r","x":256,"y":0.52},{"s":"RL7","c":"r","x":292,"y":0.58},{"s":"RL7","c":"r","x":340,"y":0.65},{"s":"RL7","c":"r","x":400,"y":0.71},{"s":"RL7","c":"r","x":450,"y":0.77},{"s":"RL7","c":"r","x":500,"y":0.83},{"s":"RL7","c":"r","x":540,"y":0.87},{"s":"RL7","c":"r","x":580,"y":0.9},{"s":"RL7","c":"r","x":630,"y":0.92},{"s":"RL7","c":"r","x":680,"y":0.925},{"s":"RL7","c":"r","x":730,"y":0.92},{"s":"RL7","c":"r","x":780,"y":0.9},{"s":"RL7","c":"r","x":850,"y":0.9},{"s":"RL7","c":"r","x":950,"y":0.905},{"s":"RL7","c":"r","x":1050,"y":0.91},{"s":"RL7","c":"r","x":1150,"y":0.912},{"s":"RL7","c":"r","x":1205,"y":0.905},
{"s":"RL8","c":"r","x":-249,"y":0},{"s":"RL8","c":"r","x":-230,"y":0.06},{"s":"RL8","c":"r","x":-190,"y":0.15},{"s":"RL8","c":"r","x":-140,"y":0.27},{"s":"RL8","c":"r","x":-90,"y":0.36},{"s":"RL8","c":"r","x":-40,"y":0.43},{"s":"RL8","c":"r","x":0,"y":0.48},{"s":"RL8","c":"r","x":30,"y":0.5},{"s":"RL8","c":"r","x":70,"y":0.5},{"s":"RL8","c":"r","x":120,"y":0.5},{"s":"RL8","c":"r","x":180,"y":0.505},{"s":"RL8","c":"r","x":240,"y":0.51},{"s":"RL8","c":"r","x":280,"y":0.53},{"s":"RL8","c":"r","x":330,"y":0.58},{"s":"RL8","c":"r","x":380,"y":0.63},{"s":"RL8","c":"r","x":430,"y":0.68},{"s":"RL8","c":"r","x":480,"y":0.71},{"s":"RL8","c":"r","x":530,"y":0.74},{"s":"RL8","c":"r","x":580,"y":0.745},{"s":"RL8","c":"r","x":630,"y":0.73},{"s":"RL8","c":"r","x":680,"y":0.72},{"s":"RL8","c":"r","x":706,"y":0.72},{"s":"RL8","c":"r","x":724,"y":0.67},{"s":"RL8","c":"r","x":751,"y":0.69},{"s":"RL8","c":"r","x":790,"y":0.74},{"s":"RL8","c":"r","x":832,"y":0.79},{"s":"RL8","c":"r","x":886,"y":0.81},{"s":"RL8","c":"r","x":930,"y":0.81},{"s":"RL8","c":"r","x":958,"y":0.8},{"s":"RL8","c":"r","x":1000,"y":0.785},{"s":"RL8","c":"r","x":1049,"y":0.73},{"s":"RL8","c":"r","x":1103,"y":0.68},{"s":"RL8","c":"r","x":1150,"y":0.67},{"s":"RL8","c":"r","x":1205,"y":0.665},
{"s":"RL9","c":"r","x":-303,"y":0},{"s":"RL9","c":"r","x":-290,"y":0.06},{"s":"RL9","c":"r","x":-231,"y":0.19},{"s":"RL9","c":"r","x":-177,"y":0.31},{"s":"RL9","c":"r","x":-104,"y":0.38},{"s":"RL9","c":"r","x":-32,"y":0.45},{"s":"RL9","c":"r","x":0,"y":0.48},{"s":"RL9","c":"r","x":40,"y":0.6},{"s":"RL9","c":"r","x":76,"y":0.64},{"s":"RL9","c":"r","x":130,"y":0.67},{"s":"RL9","c":"r","x":184,"y":0.685},{"s":"RL9","c":"r","x":250,"y":0.69},{"s":"RL9","c":"r","x":310,"y":0.7},{"s":"RL9","c":"r","x":400,"y":0.705},{"s":"RL9","c":"r","x":490,"y":0.71},{"s":"RL9","c":"r","x":580,"y":0.715},{"s":"RL9","c":"r","x":660,"y":0.725},{"s":"RL9","c":"r","x":760,"y":0.72},{"s":"RL9","c":"r","x":850,"y":0.715},{"s":"RL9","c":"r","x":940,"y":0.72},{"s":"RL9","c":"r","x":1050,"y":0.72},{"s":"RL9","c":"r","x":1150,"y":0.725},{"s":"RL9","c":"r","x":1205,"y":0.725},
{"s":"RL10","c":"r","x":-114,"y":0},{"s":"RL10","c":"r","x":-98,"y":0.06},{"s":"RL10","c":"r","x":-75,"y":0.15},{"s":"RL10","c":"r","x":-45,"y":0.3},{"s":"RL10","c":"r","x":-20,"y":0.41},{"s":"RL10","c":"r","x":0,"y":0.48},{"s":"RL10","c":"r","x":50,"y":0.54},{"s":"RL10","c":"r","x":100,"y":0.55},{"s":"RL10","c":"r","x":150,"y":0.56},{"s":"RL10","c":"r","x":200,"y":0.56},{"s":"RL10","c":"r","x":250,"y":0.55},{"s":"RL10","c":"r","x":300,"y":0.56},{"s":"RL10","c":"r","x":350,"y":0.6},{"s":"RL10","c":"r","x":400,"y":0.64},{"s":"RL10","c":"r","x":450,"y":0.68},{"s":"RL10","c":"r","x":500,"y":0.71},{"s":"RL10","c":"r","x":550,"y":0.73},{"s":"RL10","c":"r","x":600,"y":0.745},{"s":"RL10","c":"r","x":650,"y":0.73},{"s":"RL10","c":"r","x":700,"y":0.72},{"s":"RL10","c":"r","x":750,"y":0.7},{"s":"RL10","c":"r","x":800,"y":0.69},{"s":"RL10","c":"r","x":850,"y":0.685},{"s":"RL10","c":"r","x":900,"y":0.69},{"s":"RL10","c":"r","x":950,"y":0.685},{"s":"RL10","c":"r","x":1000,"y":0.68},{"s":"RL10","c":"r","x":1050,"y":0.675},{"s":"RL10","c":"r","x":1100,"y":0.67},{"s":"RL10","c":"r","x":1150,"y":0.665},{"s":"RL10","c":"r","x":1205,"y":0.655},
{"s":"BL1","c":"b","x":-405,"y":0.248},{"s":"BL1","c":"b","x":-370,"y":0.25},{"s":"BL1","c":"b","x":-320,"y":0.26},{"s":"BL1","c":"b","x":-280,"y":0.255},{"s":"BL1","c":"b","x":-249,"y":0.26},{"s":"BL1","c":"b","x":-220,"y":0.25},{"s":"BL1","c":"b","x":-185,"y":0.236},{"s":"BL1","c":"b","x":-160,"y":0.24},{"s":"BL1","c":"b","x":-150,"y":0.27},{"s":"BL1","c":"b","x":-104,"y":0.33},{"s":"BL1","c":"b","x":-50,"y":0.4},{"s":"BL1","c":"b","x":0,"y":0.48},{"s":"BL1","c":"b","x":22,"y":0.59},{"s":"BL1","c":"b","x":58,"y":0.66},{"s":"BL1","c":"b","x":94,"y":0.7},{"s":"BL1","c":"b","x":148,"y":0.72},{"s":"BL1","c":"b","x":220,"y":0.71},{"s":"BL1","c":"b","x":292,"y":0.695},{"s":"BL1","c":"b","x":364,"y":0.665},{"s":"BL1","c":"b","x":436,"y":0.637},{"s":"BL1","c":"b","x":472,"y":0.61},{"s":"BL1","c":"b","x":508,"y":0.58},{"s":"BL1","c":"b","x":580,"y":0.57},{"s":"BL1","c":"b","x":652,"y":0.53},{"s":"BL1","c":"b","x":706,"y":0.51},{"s":"BL1","c":"b","x":760,"y":0.49},{"s":"BL1","c":"b","x":832,"y":0.49},{"s":"BL1","c":"b","x":904,"y":0.47},{"s":"BL1","c":"b","x":958,"y":0.465},{"s":"BL1","c":"b","x":1013,"y":0.42},{"s":"BL1","c":"b","x":1067,"y":0.38},{"s":"BL1","c":"b","x":1103,"y":0.28},{"s":"BL1","c":"b","x":1139,"y":0.21},{"s":"BL1","c":"b","x":1205,"y":0.14},
{"s":"BL2","c":"b","x":-83,"y":0},{"s":"BL2","c":"b","x":-70,"y":0.06},{"s":"BL2","c":"b","x":-50,"y":0.18},{"s":"BL2","c":"b","x":-30,"y":0.3},{"s":"BL2","c":"b","x":-12,"y":0.42},{"s":"BL2","c":"b","x":0,"y":0.48},{"s":"BL2","c":"b","x":22,"y":0.54},{"s":"BL2","c":"b","x":58,"y":0.565},{"s":"BL2","c":"b","x":112,"y":0.58},{"s":"BL2","c":"b","x":184,"y":0.58},{"s":"BL2","c":"b","x":256,"y":0.566},{"s":"BL2","c":"b","x":328,"y":0.566},{"s":"BL2","c":"b","x":400,"y":0.57},{"s":"BL2","c":"b","x":490,"y":0.58},{"s":"BL2","c":"b","x":580,"y":0.585},{"s":"BL2","c":"b","x":634,"y":0.566},{"s":"BL2","c":"b","x":706,"y":0.555},{"s":"BL2","c":"b","x":778,"y":0.566},{"s":"BL2","c":"b","x":796,"y":0.54},{"s":"BL2","c":"b","x":868,"y":0.53},{"s":"BL2","c":"b","x":904,"y":0.52},{"s":"BL2","c":"b","x":940,"y":0.48},{"s":"BL2","c":"b","x":967,"y":0.4},{"s":"BL2","c":"b","x":986,"y":0.19},{"s":"BL2","c":"b","x":1004,"y":0.07},{"s":"BL2","c":"b","x":1022,"y":0.04}
],
"p3": [
{"s":"CB1","c":"b","x":-371,"y":0},{"s":"CB1","c":"b","x":-358,"y":0.07},{"s":"CB1","c":"b","x":-332,"y":0.15},{"s":"CB1","c":"b","x":-305,"y":0.26},{"s":"CB1","c":"b","x":-278,"y":0.32},{"s":"CB1","c":"b","x":-260,"y":0.33},{"s":"CB1","c":"b","x":-233,"y":0.31},{"s":"CB1","c":"b","x":-206,"y":0.235},{"s":"CB1","c":"b","x":-179,"y":0.18},{"s":"CB1","c":"b","x":-152,"y":0.13},{"s":"CB1","c":"b","x":-116,"y":0.11},{"s":"CB1","c":"b","x":-81,"y":0.15},{"s":"CB1","c":"b","x":-63,"y":0.32},{"s":"CB1","c":"b","x":-27,"y":0.44},{"s":"CB1","c":"b","x":0,"y":0.51},{"s":"CB1","c":"b","x":20,"y":0.58},{"s":"CB1","c":"b","x":40,"y":0.62},{"s":"CB1","c":"b","x":60,"y":0.56},{"s":"CB1","c":"b","x":81,"y":0.5},{"s":"CB1","c":"b","x":116,"y":0.39},{"s":"CB1","c":"b","x":134,"y":0.27},{"s":"CB1","c":"b","x":170,"y":0.25},{"s":"CB1","c":"b","x":206,"y":0.22},{"s":"CB1","c":"b","x":260,"y":0.2},{"s":"CB1","c":"b","x":296,"y":0.14},{"s":"CB1","c":"b","x":332,"y":0.08},{"s":"CB1","c":"b","x":367,"y":0.05},{"s":"CB1","c":"b","x":420,"y":0.06},{"s":"CB1","c":"b","x":466,"y":0.05},
{"s":"CB2","c":"b","x":-278,"y":0.053},{"s":"CB2","c":"b","x":-260,"y":0.065},{"s":"CB2","c":"b","x":-230,"y":0.075},{"s":"CB2","c":"b","x":-197,"y":0.1},{"s":"CB2","c":"b","x":-152,"y":0.106},{"s":"CB2","c":"b","x":-99,"y":0.11},{"s":"CB2","c":"b","x":-80,"y":0.2},{"s":"CB2","c":"b","x":-63,"y":0.3},{"s":"CB2","c":"b","x":-40,"y":0.4},{"s":"CB2","c":"b","x":-20,"y":0.46},{"s":"CB2","c":"b","x":0,"y":0.5},{"s":"CB2","c":"b","x":9,"y":0.56},{"s":"CB2","c":"b","x":45,"y":0.53},{"s":"CB2","c":"b","x":81,"y":0.46},{"s":"CB2","c":"b","x":116,"y":0.42},{"s":"CB2","c":"b","x":134,"y":0.39},{"s":"CB2","c":"b","x":170,"y":0.39},{"s":"CB2","c":"b","x":188,"y":0.38},{"s":"CB2","c":"b","x":206,"y":0.42},{"s":"CB2","c":"b","x":242,"y":0.52},{"s":"CB2","c":"b","x":278,"y":0.59},{"s":"CB2","c":"b","x":296,"y":0.61},{"s":"CB2","c":"b","x":332,"y":0.6},{"s":"CB2","c":"b","x":367,"y":0.61},{"s":"CB2","c":"b","x":385,"y":0.61},{"s":"CB2","c":"b","x":409,"y":0.68},{"s":"CB2","c":"b","x":421,"y":0.6},{"s":"CB2","c":"b","x":439,"y":0.46},{"s":"CB2","c":"b","x":457,"y":0.34},{"s":"CB2","c":"b","x":493,"y":0.235},{"s":"CB2","c":"b","x":529,"y":0.165},{"s":"CB2","c":"b","x":565,"y":0.13},{"s":"CB2","c":"b","x":600,"y":0.12},{"s":"CB2","c":"b","x":636,"y":0.14},{"s":"CB2","c":"b","x":672,"y":0.165},{"s":"CB2","c":"b","x":708,"y":0.205},{"s":"CB2","c":"b","x":726,"y":0.19},{"s":"CB2","c":"b","x":744,"y":0.106},{"s":"CB2","c":"b","x":756,"y":0.03},
{"s":"CB3","c":"b","x":-278,"y":0.05},{"s":"CB3","c":"b","x":-250,"y":0.06},{"s":"CB3","c":"b","x":-220,"y":0.07},{"s":"CB3","c":"b","x":-190,"y":0.08},{"s":"CB3","c":"b","x":-160,"y":0.09},{"s":"CB3","c":"b","x":-120,"y":0.12},{"s":"CB3","c":"b","x":-90,"y":0.2},{"s":"CB3","c":"b","x":-60,"y":0.33},{"s":"CB3","c":"b","x":-30,"y":0.42},{"s":"CB3","c":"b","x":0,"y":0.5},{"s":"CB3","c":"b","x":20,"y":0.6},{"s":"CB3","c":"b","x":35,"y":0.62},{"s":"CB3","c":"b","x":50,"y":0.4},{"s":"CB3","c":"b","x":63,"y":0.14},{"s":"CB3","c":"b","x":75,"y":0.07},{"s":"CB3","c":"b","x":88,"y":0.05},
{"s":"CB4","c":"b","x":-180,"y":0.05},{"s":"CB4","c":"b","x":-150,"y":0.08},{"s":"CB4","c":"b","x":-120,"y":0.09},{"s":"CB4","c":"b","x":-90,"y":0.13},{"s":"CB4","c":"b","x":-60,"y":0.3},{"s":"CB4","c":"b","x":-30,"y":0.42},{"s":"CB4","c":"b","x":0,"y":0.49},{"s":"CB4","c":"b","x":20,"y":0.49},{"s":"CB4","c":"b","x":50,"y":0.47},{"s":"CB4","c":"b","x":80,"y":0.42},{"s":"CB4","c":"b","x":110,"y":0.36},{"s":"CB4","c":"b","x":140,"y":0.3},{"s":"CB4","c":"b","x":170,"y":0.25},{"s":"CB4","c":"b","x":200,"y":0.2},{"s":"CB4","c":"b","x":240,"y":0.15},{"s":"CB4","c":"b","x":280,"y":0.11},{"s":"CB4","c":"b","x":320,"y":0.08},{"s":"CB4","c":"b","x":350,"y":0.06},{"s":"CB4","c":"b","x":380,"y":0.06},{"s":"CB4","c":"b","x":420,"y":0.07},{"s":"CB4","c":"b","x":460,"y":0.085},{"s":"CB4","c":"b","x":500,"y":0.09},{"s":"CB4","c":"b","x":540,"y":0.095},{"s":"CB4","c":"b","x":580,"y":0.09},{"s":"CB4","c":"b","x":620,"y":0.085},{"s":"CB4","c":"b","x":660,"y":0.09},{"s":"CB4","c":"b","x":700,"y":0.1},{"s":"CB4","c":"b","x":730,"y":0.09},{"s":"CB4","c":"b","x":760,"y":0.08},{"s":"CB4","c":"b","x":798,"y":0.05},
{"s":"CR1","c":"r","x":-45,"y":0},{"s":"CR1","c":"r","x":-25,"y":0.2},{"s":"CR1","c":"r","x":0,"y":0.5},{"s":"CR1","c":"r","x":20,"y":0.75},{"s":"CR1","c":"r","x":40,"y":0.88},{"s":"CR1","c":"r","x":55,"y":0.95},
{"s":"CR2","c":"r","x":-108,"y":0},{"s":"CR2","c":"r","x":-60,"y":0.2},{"s":"CR2","c":"r","x":-30,"y":0.35},{"s":"CR2","c":"r","x":0,"y":0.5},{"s":"CR2","c":"r","x":30,"y":0.7},{"s":"CR2","c":"r","x":60,"y":0.8},{"s":"CR2","c":"r","x":80,"y":0.86},{"s":"CR2","c":"r","x":99,"y":0.88},{"s":"CR2","c":"r","x":115,"y":0.86},{"s":"CR2","c":"r","x":135,"y":0.7},{"s":"CR2","c":"r","x":160,"y":0.5},{"s":"CR2","c":"r","x":179,"y":0.42},{"s":"CR2","c":"r","x":190,"y":0.41},{"s":"CR2","c":"r","x":200,"y":0.6},{"s":"CR2","c":"r","x":224,"y":0.66},{"s":"CR2","c":"r","x":260,"y":0.675},{"s":"CR2","c":"r","x":296,"y":0.67},{"s":"CR2","c":"r","x":314,"y":0.65},{"s":"CR2","c":"r","x":349,"y":0.5},{"s":"CR2","c":"r","x":385,"y":0.32},{"s":"CR2","c":"r","x":421,"y":0.25},{"s":"CR2","c":"r","x":457,"y":0.165},{"s":"CR2","c":"r","x":493,"y":0.105},{"s":"CR2","c":"r","x":529,"y":0.1},{"s":"CR2","c":"r","x":565,"y":0.13},{"s":"CR2","c":"r","x":591,"y":0.22},{"s":"CR2","c":"r","x":618,"y":0.32},{"s":"CR2","c":"r","x":654,"y":0.52},{"s":"CR2","c":"r","x":672,"y":0.68},{"s":"CR2","c":"r","x":708,"y":0.82},{"s":"CR2","c":"r","x":744,"y":0.86},{"s":"CR2","c":"r","x":780,"y":0.89},{"s":"CR2","c":"r","x":833,"y":0.94},{"s":"CR2","c":"r","x":869,"y":0.95},
{"s":"CR3","c":"r","x":-54,"y":0},{"s":"CR3","c":"r","x":-30,"y":0.2},{"s":"CR3","c":"r","x":0,"y":0.5},{"s":"CR3","c":"r","x":30,"y":0.65},{"s":"CR3","c":"r","x":60,"y":0.73},{"s":"CR3","c":"r","x":81,"y":0.765},{"s":"CR3","c":"r","x":116,"y":0.77},{"s":"CR3","c":"r","x":150,"y":0.82},{"s":"CR3","c":"r","x":188,"y":0.87},{"s":"CR3","c":"r","x":242,"y":0.94},{"s":"CR3","c":"r","x":300,"y":0.94},{"s":"CR3","c":"r","x":340,"y":0.935},{"s":"CR3","c":"r","x":367,"y":0.925},{"s":"CR3","c":"r","x":403,"y":0.92},{"s":"CR3","c":"r","x":421,"y":0.865},{"s":"CR3","c":"r","x":440,"y":0.855},{"s":"CR3","c":"r","x":457,"y":0.85},{"s":"CR3","c":"r","x":475,"y":0.865},{"s":"CR3","c":"r","x":493,"y":0.855},{"s":"CR3","c":"r","x":511,"y":0.88},{"s":"CR3","c":"r","x":547,"y":0.88},{"s":"CR3","c":"r","x":582,"y":0.86},{"s":"CR3","c":"r","x":618,"y":0.8},{"s":"CR3","c":"r","x":654,"y":0.75},{"s":"CR3","c":"r","x":672,"y":0.69},{"s":"CR3","c":"r","x":708,"y":0.66},{"s":"CR3","c":"r","x":735,"y":0.61},{"s":"CR3","c":"r","x":762,"y":0.66},{"s":"CR3","c":"r","x":797,"y":0.75},{"s":"CR3","c":"r","x":833,"y":0.81},{"s":"CR3","c":"r","x":851,"y":0.89},{"s":"CR3","c":"r","x":887,"y":0.92},{"s":"CR3","c":"r","x":932,"y":0.92},{"s":"CR3","c":"r","x":959,"y":0.9},{"s":"CR3","c":"r","x":995,"y":0.9},{"s":"CR3","c":"r","x":1030,"y":0.94},{"s":"CR3","c":"r","x":1084,"y":0.94},{"s":"CR3","c":"r","x":1138,"y":0.94},{"s":"CR3","c":"r","x":1174,"y":0.965},
{"s":"CR4","c":"r","x":-90,"y":0},{"s":"CR4","c":"r","x":-50,"y":0.2},{"s":"CR4","c":"r","x":-20,"y":0.38},{"s":"CR4","c":"r","x":0,"y":0.5},{"s":"CR4","c":"r","x":30,"y":0.45},{"s":"CR4","c":"r","x":60,"y":0.38},{"s":"CR4","c":"r","x":90,"y":0.32},{"s":"CR4","c":"r","x":116,"y":0.3},{"s":"CR4","c":"r","x":140,"y":0.4},{"s":"CR4","c":"r","x":170,"y":0.55},{"s":"CR4","c":"r","x":200,"y":0.48},{"s":"CR4","c":"r","x":220,"y":0.4},{"s":"CR4","c":"r","x":242,"y":0.365},{"s":"CR4","c":"r","x":278,"y":0.35},{"s":"CR4","c":"r","x":296,"y":0.39},{"s":"CR4","c":"r","x":320,"y":0.6},{"s":"CR4","c":"r","x":340,"y":0.85},{"s":"CR4","c":"r","x":360,"y":0.93},{"s":"CR4","c":"r","x":376,"y":0.95},
{"s":"CR5","c":"r","x":-152,"y":0},{"s":"CR5","c":"r","x":-120,"y":0.1},{"s":"CR5","c":"r","x":-80,"y":0.2},{"s":"CR5","c":"r","x":-40,"y":0.35},{"s":"CR5","c":"r","x":0,"y":0.5},{"s":"CR5","c":"r","x":40,"y":0.6},{"s":"CR5","c":"r","x":80,"y":0.7},{"s":"CR5","c":"r","x":100,"y":0.82},{"s":"CR5","c":"r","x":120,"y":0.9},{"s":"CR5","c":"r","x":134,"y":0.95}
],
"p4": [
{"s":"DR1","c":"r","x":-396,"y":0.05},{"s":"DR1","c":"r","x":-375,"y":0.08},{"s":"DR1","c":"r","x":-339,"y":0.15},{"s":"DR1","c":"r","x":-303,"y":0.22},{"s":"DR1","c":"r","x":-267,"y":0.265},{"s":"DR1","c":"r","x":-240,"y":0.28},{"s":"DR1","c":"r","x":-213,"y":0.335},{"s":"DR1","c":"r","x":-186,"y":0.35},{"s":"DR1","c":"r","x":-141,"y":0.365},{"s":"DR1","c":"r","x":-105,"y":0.375},{"s":"DR1","c":"r","x":-68,"y":0.39},{"s":"DR1","c":"r","x":-41,"y":0.435},{"s":"DR1","c":"r","x":-23,"y":0.465},{"s":"DR1","c":"r","x":0,"y":0.46},{"s":"DR1","c":"r","x":22,"y":0.475},{"s":"DR1","c":"r","x":58,"y":0.49},{"s":"DR1","c":"r","x":94,"y":0.51},{"s":"DR1","c":"r","x":148,"y":0.535},{"s":"DR1","c":"r","x":220,"y":0.57},{"s":"DR1","c":"r","x":292,"y":0.605},{"s":"DR1","c":"r","x":364,"y":0.645},{"s":"DR1","c":"r","x":436,"y":0.68},{"s":"DR1","c":"r","x":508,"y":0.71},{"s":"DR1","c":"r","x":580,"y":0.74},{"s":"DR1","c":"r","x":652,"y":0.79},{"s":"DR1","c":"r","x":724,"y":0.83},{"s":"DR1","c":"r","x":796,"y":0.86},{"s":"DR1","c":"r","x":868,"y":0.875},{"s":"DR1","c":"r","x":940,"y":0.88},{"s":"DR1","c":"r","x":995,"y":0.88},{"s":"DR1","c":"r","x":1049,"y":0.87},{"s":"DR1","c":"r","x":1121,"y":0.855},{"s":"DR1","c":"r","x":1205,"y":0.86},
{"s":"DR2a","c":"r","x":-191,"y":0},{"s":"DR2a","c":"r","x":-150,"y":0.15},{"s":"DR2a","c":"r","x":-100,"y":0.3},{"s":"DR2a","c":"r","x":-50,"y":0.42},{"s":"DR2a","c":"r","x":0,"y":0.5},{"s":"DR2a","c":"r","x":40,"y":0.6},{"s":"DR2a","c":"r","x":80,"y":0.64},{"s":"DR2a","c":"r","x":120,"y":0.66},{"s":"DR2a","c":"r","x":160,"y":0.7},{"s":"DR2a","c":"r","x":200,"y":0.73},{"s":"DR2a","c":"r","x":250,"y":0.77},{"s":"DR2a","c":"r","x":300,"y":0.79},{"s":"DR2a","c":"r","x":350,"y":0.83},{"s":"DR2a","c":"r","x":400,"y":0.86},{"s":"DR2a","c":"r","x":450,"y":0.88},{"s":"DR2a","c":"r","x":500,"y":0.89},{"s":"DR2a","c":"r","x":550,"y":0.91},{"s":"DR2a","c":"r","x":589,"y":0.95},
{"s":"DR2b","c":"r","x":-176,"y":0},{"s":"DR2b","c":"r","x":-120,"y":0.2},{"s":"DR2b","c":"r","x":-60,"y":0.4},{"s":"DR2b","c":"r","x":0,"y":0.5},{"s":"DR2b","c":"r","x":40,"y":0.54},{"s":"DR2b","c":"r","x":80,"y":0.53},{"s":"DR2b","c":"r","x":112,"y":0.5},{"s":"DR2b","c":"r","x":150,"y":0.45},{"s":"DR2b","c":"r","x":184,"y":0.41},{"s":"DR2b","c":"r","x":216,"y":0.365},{"s":"DR2b","c":"r","x":230,"y":0.55},{"s":"DR2b","c":"r","x":245,"y":0.78},{"s":"DR2b","c":"r","x":280,"y":0.8},{"s":"DR2b","c":"r","x":330,"y":0.82},{"s":"DR2b","c":"r","x":364,"y":0.835},{"s":"DR2b","c":"r","x":436,"y":0.865},{"s":"DR2b","c":"r","x":508,"y":0.88},{"s":"DR2b","c":"r","x":550,"y":0.9},{"s":"DR2b","c":"r","x":589,"y":0.95},
{"s":"DR2c","c":"r","x":-113,"y":0},{"s":"DR2c","c":"r","x":-70,"y":0.25},{"s":"DR2c","c":"r","x":-30,"y":0.42},{"s":"DR2c","c":"r","x":0,"y":0.5},{"s":"DR2c","c":"r","x":30,"y":0.6},{"s":"DR2c","c":"r","x":60,"y":0.65},{"s":"DR2c","c":"r","x":100,"y":0.66},{"s":"DR2c","c":"r","x":140,"y":0.64},{"s":"DR2c","c":"r","x":180,"y":0.5},{"s":"DR2c","c":"r","x":220,"y":0.36},{"s":"DR2c","c":"r","x":256,"y":0.235},{"s":"DR2c","c":"r","x":270,"y":0.4},{"s":"DR2c","c":"r","x":290,"y":0.65},{"s":"DR2c","c":"r","x":310,"y":0.76},{"s":"DR2c","c":"r","x":364,"y":0.8},{"s":"DR2c","c":"r","x":436,"y":0.84},{"s":"DR2c","c":"r","x":508,"y":0.87},{"s":"DR2c","c":"r","x":550,"y":0.895},{"s":"DR2c","c":"r","x":589,"y":0.95},
{"s":"DR3","c":"r","x":-120,"y":0},{"s":"DR3","c":"r","x":-80,"y":0.2},{"s":"DR3","c":"r","x":-40,"y":0.37},{"s":"DR3","c":"r","x":0,"y":0.5},{"s":"DR3","c":"r","x":40,"y":0.6},{"s":"DR3","c":"r","x":76,"y":0.66},{"s":"DR3","c":"r","x":120,"y":0.66},{"s":"DR3","c":"r","x":160,"y":0.655},{"s":"DR3","c":"r","x":200,"y":0.65},{"s":"DR3","c":"r","x":256,"y":0.645},{"s":"DR3","c":"r","x":310,"y":0.63},{"s":"DR3","c":"r","x":364,"y":0.62},{"s":"DR3","c":"r","x":420,"y":0.64},{"s":"DR3","c":"r","x":470,"y":0.645},{"s":"DR3","c":"r","x":508,"y":0.65},{"s":"DR3","c":"r","x":580,"y":0.67},{"s":"DR3","c":"r","x":634,"y":0.705},{"s":"DR3","c":"r","x":688,"y":0.745},{"s":"DR3","c":"r","x":706,"y":0.765},{"s":"DR3","c":"r","x":724,"y":0.77},{"s":"DR3","c":"r","x":742,"y":0.69},{"s":"DR3","c":"r","x":760,"y":0.6},{"s":"DR3","c":"r","x":796,"y":0.505},{"s":"DR3","c":"r","x":832,"y":0.435},{"s":"DR3","c":"r","x":868,"y":0.375},{"s":"DR3","c":"r","x":895,"y":0.35},{"s":"DR3","c":"r","x":940,"y":0.39},{"s":"DR3","c":"r","x":1013,"y":0.435},{"s":"DR3","c":"r","x":1067,"y":0.495},{"s":"DR3","c":"r","x":1121,"y":0.565},{"s":"DR3","c":"r","x":1205,"y":0.645},
{"s":"DR4","c":"r","x":-190,"y":0},{"s":"DR4","c":"r","x":-150,"y":0.1},{"s":"DR4","c":"r","x":-100,"y":0.25},{"s":"DR4","c":"r","x":-50,"y":0.4},{"s":"DR4","c":"r","x":0,"y":0.47},{"s":"DR4","c":"r","x":30,"y":0.52},{"s":"DR4","c":"r","x":76,"y":0.54},{"s":"DR4","c":"r","x":148,"y":0.53},{"s":"DR4","c":"r","x":220,"y":0.49},{"s":"DR4","c":"r","x":292,"y":0.48},{"s":"DR4","c":"r","x":364,"y":0.47},{"s":"DR4","c":"r","x":436,"y":0.46},{"s":"DR4","c":"r","x":508,"y":0.44},{"s":"DR4","c":"r","x":580,"y":0.41},{"s":"DR4","c":"r","x":652,"y":0.375},{"s":"DR4","c":"r","x":706,"y":0.35},{"s":"DR4","c":"r","x":760,"y":0.34},{"s":"DR4","c":"r","x":832,"y":0.34},{"s":"DR4","c":"r","x":904,"y":0.35},{"s":"DR4","c":"r","x":976,"y":0.347},{"s":"DR4","c":"r","x":1040,"y":0.35},{"s":"DR4","c":"r","x":1103,"y":0.33},{"s":"DR4","c":"r","x":1157,"y":0.295},{"s":"DR4","c":"r","x":1205,"y":0.305},
{"s":"DB1","c":"b","x":-131,"y":0.05},{"s":"DB1","c":"b","x":-100,"y":0.15},{"s":"DB1","c":"b","x":-60,"y":0.3},{"s":"DB1","c":"b","x":-30,"y":0.42},{"s":"DB1","c":"b","x":0,"y":0.5},{"s":"DB1","c":"b","x":22,"y":0.66},{"s":"DB1","c":"b","x":50,"y":0.72},{"s":"DB1","c":"b","x":76,"y":0.735},{"s":"DB1","c":"b","x":110,"y":0.735},{"s":"DB1","c":"b","x":130,"y":0.725},{"s":"DB1","c":"b","x":150,"y":0.7},{"s":"DB1","c":"b","x":170,"y":0.6},{"s":"DB1","c":"b","x":190,"y":0.45},{"s":"DB1","c":"b","x":210,"y":0.35},{"s":"DB1","c":"b","x":238,"y":0.3},{"s":"DB1","c":"b","x":260,"y":0.29},{"s":"DB1","c":"b","x":292,"y":0.29},{"s":"DB1","c":"b","x":320,"y":0.33},{"s":"DB1","c":"b","x":350,"y":0.45},{"s":"DB1","c":"b","x":380,"y":0.6},{"s":"DB1","c":"b","x":400,"y":0.66},{"s":"DB1","c":"b","x":436,"y":0.705},{"s":"DB1","c":"b","x":472,"y":0.71},{"s":"DB1","c":"b","x":526,"y":0.67},{"s":"DB1","c":"b","x":580,"y":0.61},{"s":"DB1","c":"b","x":634,"y":0.55},{"s":"DB1","c":"b","x":688,"y":0.52},{"s":"DB1","c":"b","x":760,"y":0.495},{"s":"DB1","c":"b","x":814,"y":0.435},{"s":"DB1","c":"b","x":850,"y":0.34},{"s":"DB1","c":"b","x":886,"y":0.165},{"s":"DB1","c":"b","x":913,"y":0.06},{"s":"DB1","c":"b","x":928,"y":0.047},
{"s":"DB2","c":"b","x":-77,"y":0},{"s":"DB2","c":"b","x":-50,"y":0.25},{"s":"DB2","c":"b","x":-20,"y":0.4},{"s":"DB2","c":"b","x":0,"y":0.5},{"s":"DB2","c":"b","x":20,"y":0.63},{"s":"DB2","c":"b","x":40,"y":0.66},{"s":"DB2","c":"b","x":60,"y":0.66},{"s":"DB2","c":"b","x":80,"y":0.6},{"s":"DB2","c":"b","x":110,"y":0.45},{"s":"DB2","c":"b","x":148,"y":0.4},{"s":"DB2","c":"b","x":184,"y":0.3},{"s":"DB2","c":"b","x":210,"y":0.27},{"s":"DB2","c":"b","x":238,"y":0.255},{"s":"DB2","c":"b","x":292,"y":0.235},{"s":"DB2","c":"b","x":328,"y":0.23},{"s":"DB2","c":"b","x":382,"y":0.235},{"s":"DB2","c":"b","x":418,"y":0.25},{"s":"DB2","c":"b","x":472,"y":0.235},{"s":"DB2","c":"b","x":508,"y":0.23},{"s":"DB2","c":"b","x":544,"y":0.19},{"s":"DB2","c":"b","x":580,"y":0.13},{"s":"DB2","c":"b","x":616,"y":0.095},{"s":"DB2","c":"b","x":652,"y":0.047},{"s":"DB2","c":"b","x":667,"y":0.035},
{"s":"DB3","c":"b","x":-120,"y":0.05},{"s":"DB3","c":"b","x":-90,"y":0.15},{"s":"DB3","c":"b","x":-50,"y":0.3},{"s":"DB3","c":"b","x":-20,"y":0.42},{"s":"DB3","c":"b","x":0,"y":0.5},{"s":"DB3","c":"b","x":15,"y":0.58},{"s":"DB3","c":"b","x":30,"y":0.6},{"s":"DB3","c":"b","x":50,"y":0.5},{"s":"DB3","c":"b","x":70,"y":0.35},{"s":"DB3","c":"b","x":100,"y":0.24},{"s":"DB3","c":"b","x":130,"y":0.17},{"s":"DB3","c":"b","x":160,"y":0.14},{"s":"DB3","c":"b","x":200,"y":0.13},{"s":"DB3","c":"b","x":240,"y":0.1},{"s":"DB3","c":"b","x":280,"y":0.07},{"s":"DB3","c":"b","x":320,"y":0.05},
{"s":"DB4","c":"b","x":-68,"y":0},{"s":"DB4","c":"b","x":-40,"y":0.25},{"s":"DB4","c":"b","x":0,"y":0.5},{"s":"DB4","c":"b","x":22,"y":0.62},{"s":"DB4","c":"b","x":50,"y":0.65},{"s":"DB4","c":"b","x":80,"y":0.675},{"s":"DB4","c":"b","x":148,"y":0.69},{"s":"DB4","c":"b","x":220,"y":0.73},{"s":"DB4","c":"b","x":292,"y":0.755},{"s":"DB4","c":"b","x":350,"y":0.76},{"s":"DB4","c":"b","x":400,"y":0.755},{"s":"DB4","c":"b","x":436,"y":0.76},{"s":"DB4","c":"b","x":490,"y":0.765},{"s":"DB4","c":"b","x":550,"y":0.76},{"s":"DB4","c":"b","x":616,"y":0.76},{"s":"DB4","c":"b","x":670,"y":0.755},{"s":"DB4","c":"b","x":706,"y":0.74},{"s":"DB4","c":"b","x":742,"y":0.75},{"s":"DB4","c":"b","x":800,"y":0.755},{"s":"DB4","c":"b","x":850,"y":0.75},{"s":"DB4","c":"b","x":904,"y":0.76},{"s":"DB4","c":"b","x":922,"y":0.755},{"s":"DB4","c":"b","x":940,"y":0.73},{"s":"DB4","c":"b","x":1013,"y":0.645},{"s":"DB4","c":"b","x":1067,"y":0.505},{"s":"DB4","c":"b","x":1121,"y":0.45},{"s":"DB4","c":"b","x":1140,"y":0.48},{"s":"DB4","c":"b","x":1205,"y":0.5}
]
},
"concat": [
{
"title": "H3N2/HA",
"width": 297, "height": 294,
"layer": [
{"data": {"values": [{"x": 0}]}, "mark": {"type": "rule", "color": "#b4b4b4", "strokeWidth": 1.5},
 "encoding": {"x": {"field": "x", "type": "quantitative", "title": "days", "scale": {"domain": [-413, 1118], "nice": false, "zero": false}}}},
{"data": {"name": "p1"}, "mark": {"type": "line", "strokeWidth": 1.4, "opacity": 0.8, "clip": true},
 "encoding": {
  "x": {"field": "x", "type": "quantitative", "title": "days", "scale": {"domain": [-413, 1118], "nice": false, "zero": false}, "axis": {"values": [-250, 0, 250, 500, 750, 1000], "labelExpr": "datum.value < 0 ? '\u2212' + abs(datum.value) : '' + datum.value"}},
  "y": {"field": "y", "type": "quantitative", "title": "frequency", "scale": {"domain": [-0.032, 1.03], "nice": false, "zero": false}, "axis": {"values": [0, 0.25, 0.5, 0.75, 1], "format": ".2f"}},
  "color": {"field": "c", "type": "nominal", "scale": {"domain": ["k", "r", "b"], "range": ["#000000", "#ff0000", "#0000ff"]}, "legend": null},
  "detail": {"field": "s", "type": "nominal"}}}
]
},
{
"title": "ν = 0.03, ρ/s = 0.05",
"width": 297, "height": 294,
"layer": [
{"data": {"values": [{"x": 0}]}, "mark": {"type": "rule", "color": "#b4b4b4", "strokeWidth": 1.5},
 "encoding": {"x": {"field": "x", "type": "quantitative", "title": "time", "scale": {"domain": [-405, 1205], "nice": false, "zero": false}}}},
{"data": {"values": [{"y": 0.05}, {"y": 0.95}]}, "mark": {"type": "rule", "color": "#333333", "strokeWidth": 1.2, "strokeDash": [8, 5]},
 "encoding": {"y": {"field": "y", "type": "quantitative", "title": "frequency", "scale": {"domain": [-0.02, 1.02], "nice": false, "zero": false}}}},
{"data": {"name": "p2"}, "mark": {"type": "line", "strokeWidth": 1.4, "opacity": 0.8, "clip": true},
 "encoding": {
  "x": {"field": "x", "type": "quantitative", "title": "time", "scale": {"domain": [-405, 1205], "nice": false, "zero": false}, "axis": {"values": [-250, 0, 250, 500, 750, 1000], "labelExpr": "datum.value < 0 ? '\u2212' + abs(datum.value) : '' + datum.value"}},
  "y": {"field": "y", "type": "quantitative", "title": "frequency", "scale": {"domain": [-0.02, 1.02], "nice": false, "zero": false}, "axis": {"values": [0, 0.25, 0.5, 0.75, 1], "format": ".2f"}},
  "color": {"field": "c", "type": "nominal", "scale": {"domain": ["k", "r", "b"], "range": ["#000000", "#ff0000", "#0000ff"]}, "legend": null},
  "detail": {"field": "s", "type": "nominal"}}}
]
},
{
"title": "ν = 0.03, ρ/s = 1.0",
"width": 297, "height": 294,
"layer": [
{"data": {"values": [{"x": 0}]}, "mark": {"type": "rule", "color": "#b4b4b4", "strokeWidth": 1.5},
 "encoding": {"x": {"field": "x", "type": "quantitative", "title": "time", "scale": {"domain": [-402, 1195], "nice": false, "zero": false}}}},
{"data": {"values": [{"y": 0.05}, {"y": 0.95}]}, "mark": {"type": "rule", "color": "#333333", "strokeWidth": 1.2, "strokeDash": [8, 5]},
 "encoding": {"y": {"field": "y", "type": "quantitative", "title": "frequency", "scale": {"domain": [-0.018, 1.017], "nice": false, "zero": false}}}},
{"data": {"name": "p3"}, "mark": {"type": "line", "strokeWidth": 1.4, "opacity": 0.8, "clip": true},
 "encoding": {
  "x": {"field": "x", "type": "quantitative", "title": "time", "scale": {"domain": [-402, 1195], "nice": false, "zero": false}, "axis": {"values": [-250, 0, 250, 500, 750, 1000], "labelExpr": "datum.value < 0 ? '\u2212' + abs(datum.value) : '' + datum.value"}},
  "y": {"field": "y", "type": "quantitative", "title": "frequency", "scale": {"domain": [-0.018, 1.017], "nice": false, "zero": false}, "axis": {"values": [0, 0.25, 0.5, 0.75, 1], "format": ".2f"}},
  "color": {"field": "c", "type": "nominal", "scale": {"domain": ["k", "r", "b"], "range": ["#000000", "#ff0000", "#0000ff"]}, "legend": null},
  "detail": {"field": "s", "type": "nominal"}}}
]
},
{
"title": "ν = 0.03, ρ/s = 0.2",
"width": 297, "height": 294,
"layer": [
{"data": {"values": [{"x": 0}]}, "mark": {"type": "rule", "color": "#b4b4b4", "strokeWidth": 1.5},
 "encoding": {"x": {"field": "x", "type": "quantitative", "title": "time", "scale": {"domain": [-405, 1205], "nice": false, "zero": false}}}},
{"data": {"values": [{"y": 0.05}, {"y": 0.95}]}, "mark": {"type": "rule", "color": "#333333", "strokeWidth": 1.2, "strokeDash": [8, 5]},
 "encoding": {"y": {"field": "y", "type": "quantitative", "title": "frequency", "scale": {"domain": [-0.018, 1.017], "nice": false, "zero": false}}}},
{"data": {"name": "p4"}, "mark": {"type": "line", "strokeWidth": 1.4, "opacity": 0.8, "clip": true},
 "encoding": {
  "x": {"field": "x", "type": "quantitative", "title": "time", "scale": {"domain": [-405, 1205], "nice": false, "zero": false}, "axis": {"values": [-250, 0, 250, 500, 750, 1000], "labelExpr": "datum.value < 0 ? '\u2212' + abs(datum.value) : '' + datum.value"}},
  "y": {"field": "y", "type": "quantitative", "title": "frequency", "scale": {"domain": [-0.018, 1.017], "nice": false, "zero": false}, "axis": {"values": [0, 0.25, 0.5, 0.75, 1], "format": ".2f"}},
  "color": {"field": "c", "type": "nominal", "scale": {"domain": ["k", "r", "b"], "range": ["#000000", "#ff0000", "#0000ff"]}, "legend": null},
  "detail": {"field": "s", "type": "nominal"}}}
]
}
],
"config": {
"font": "DejaVu Sans",
"view": {"stroke": "#8c8c8c", "strokeWidth": 1},
"axis": {"labelFont": "DejaVu Sans", "titleFont": "DejaVu Sans", "labelFontSize": 16, "titleFontSize": 16, "titleFontWeight": "normal", "labelColor": "#111111", "titleColor": "#111111", "grid": true, "gridColor": "#ececec", "gridWidth": 1, "domain": false, "ticks": false, "labelOverlap": false, "labelFlush": false},
"axisX": {"labelPadding": 9, "titlePadding": 3},
"axisY": {"labelPadding": 12, "titlePadding": 8},
"title": {"font": "DejaVu Sans", "fontSize": 16, "fontWeight": "normal", "color": "#111111", "offset": 13}
}
}
